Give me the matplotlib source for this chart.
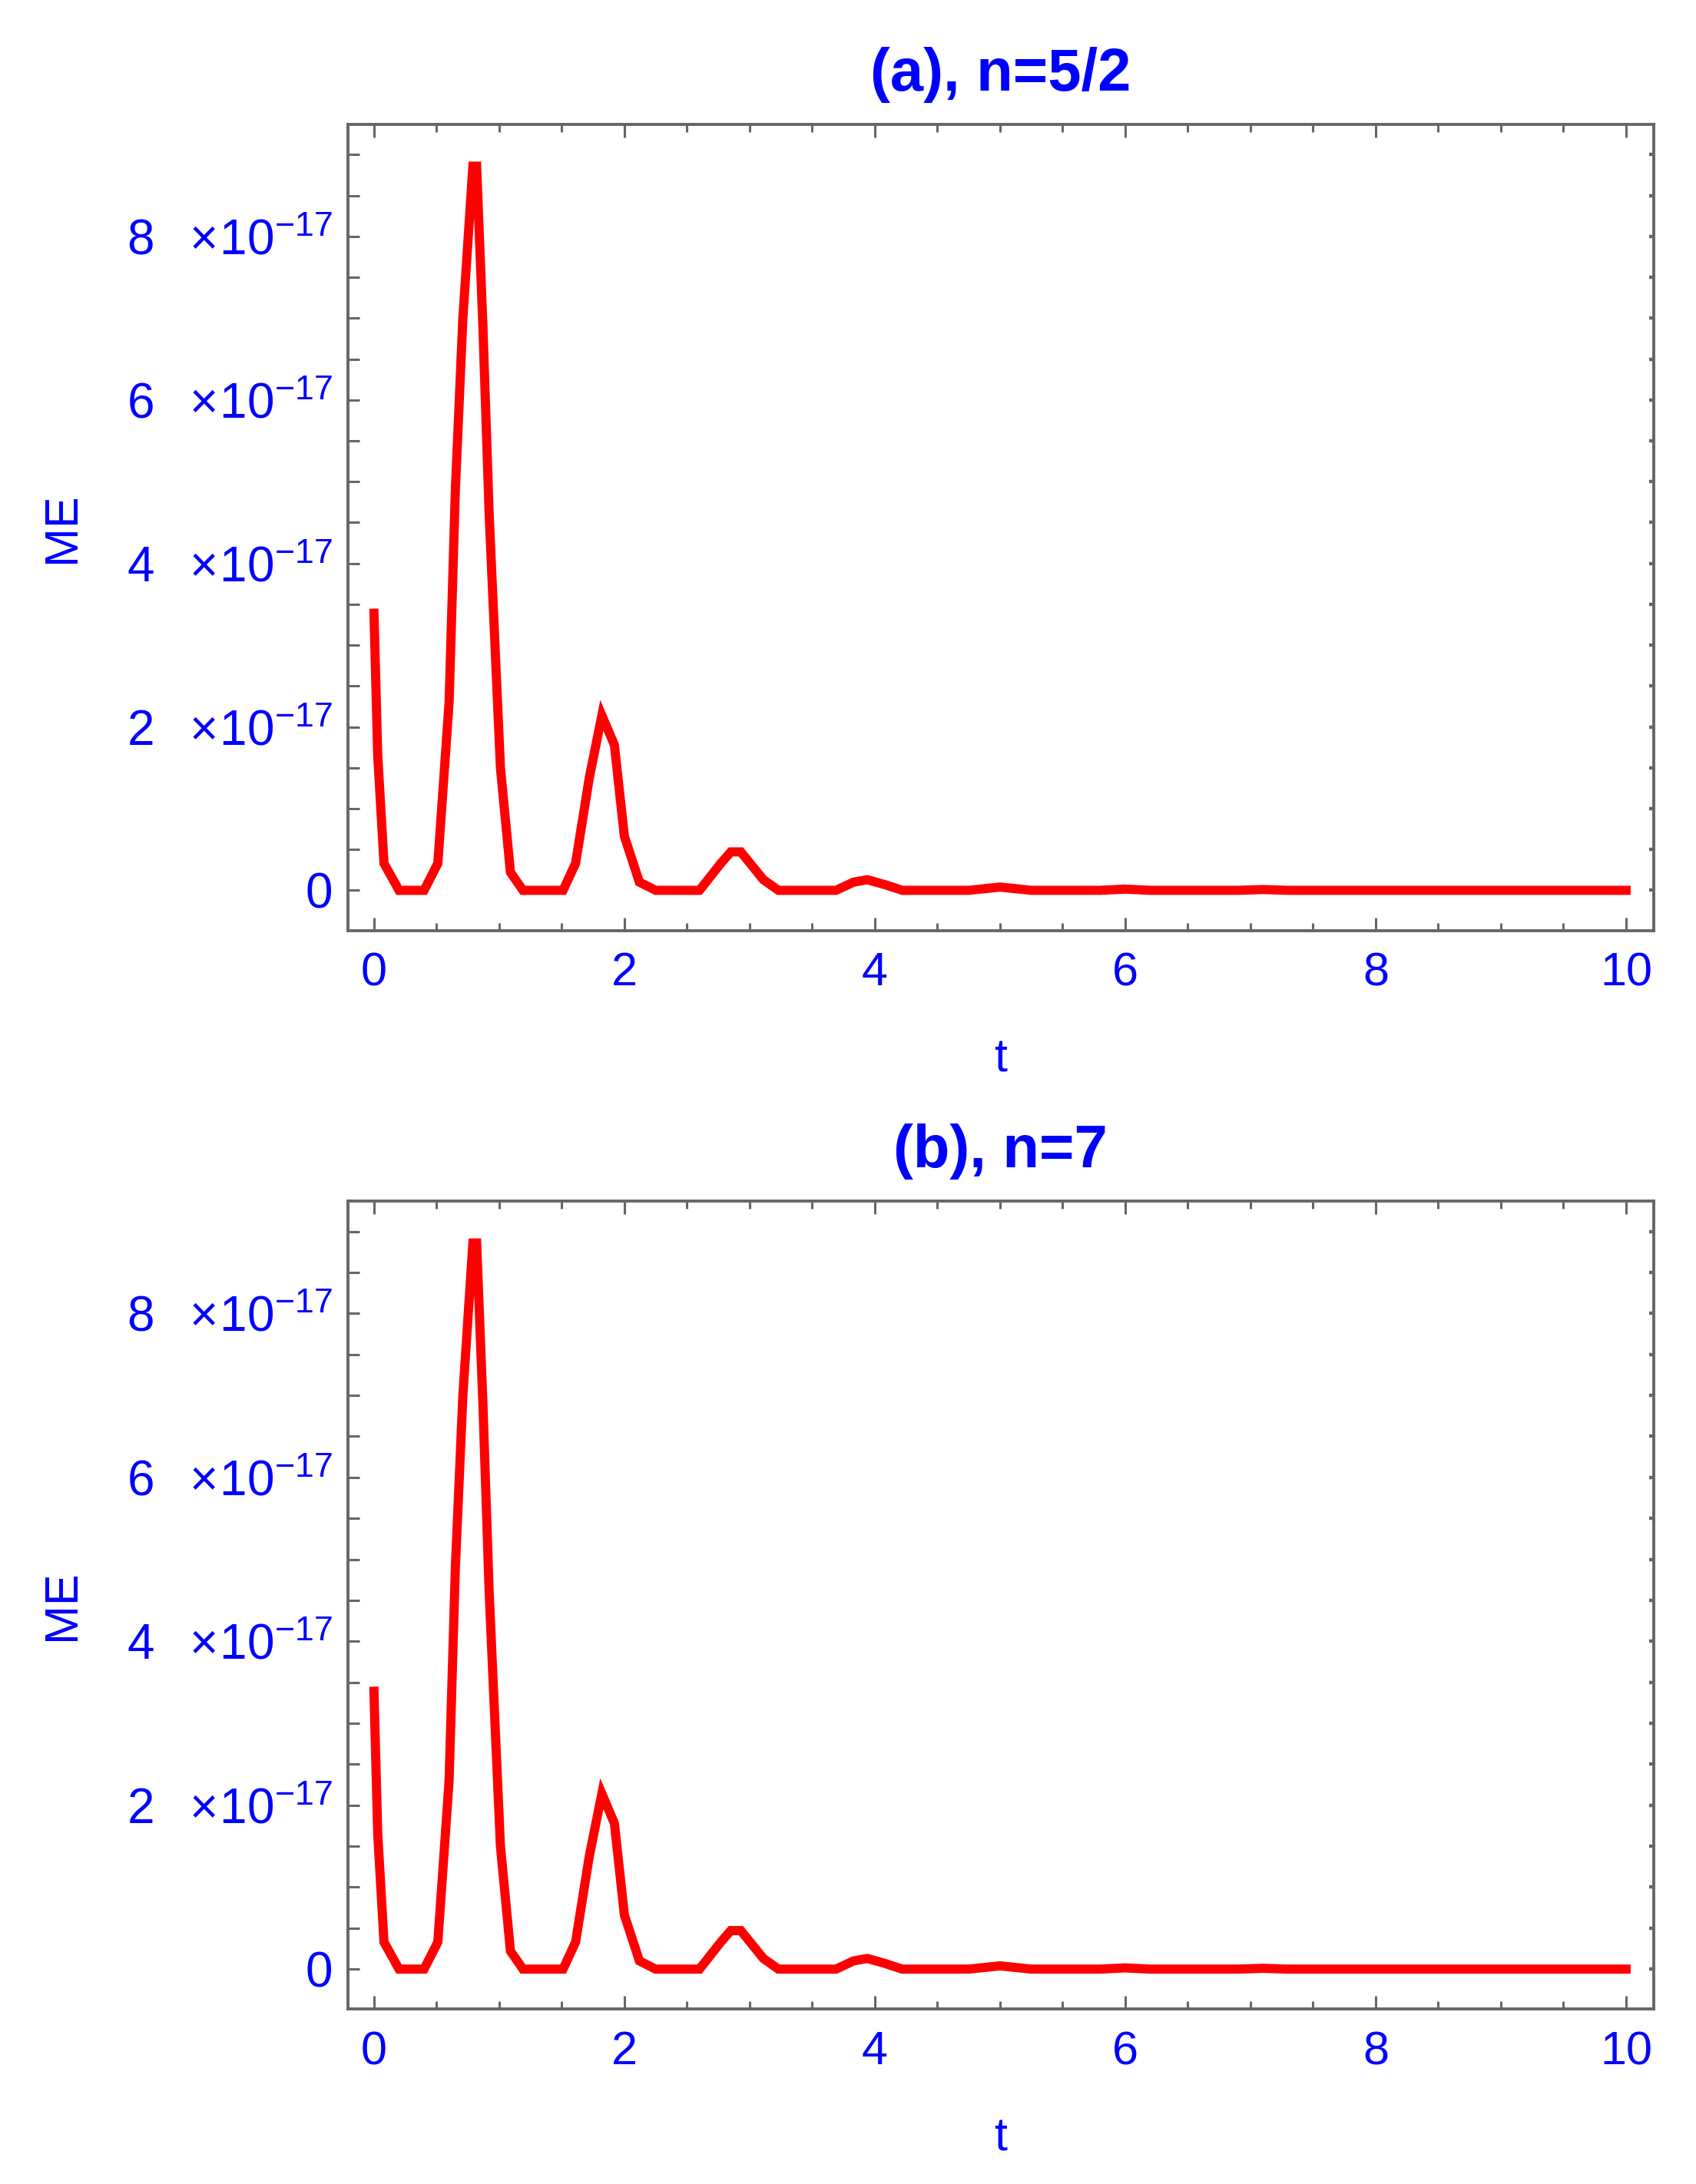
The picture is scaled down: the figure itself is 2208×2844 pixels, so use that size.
import numpy as np
import matplotlib
matplotlib.use('Agg')
import matplotlib.pyplot as plt
from matplotlib.ticker import MultipleLocator

plt.rcParams['font.family'] = ['Liberation Sans', 'DejaVu Sans']
plt.rcParams['mathtext.fontset'] = 'custom'
plt.rcParams['mathtext.rm'] = 'Liberation Sans'
plt.rcParams['mathtext.it'] = 'Liberation Sans:italic'
plt.rcParams['mathtext.bf'] = 'Liberation Sans:bold'

# data (ME in units of 1e-17)
t_a = [0.0, 0.03, 0.08, 0.2, 0.4, 0.51, 0.6, 0.65, 0.71, 0.79, 0.82, 0.87, 0.92,
       1.01, 1.09, 1.19, 1.51, 1.61, 1.72, 1.82, 1.92, 2.0, 2.12, 2.25, 2.6,
       2.77, 2.85, 2.93, 3.11, 3.23, 3.69, 3.83, 3.94, 4.08, 4.22, 4.75, 5.0,
       5.25, 5.8, 6.0, 6.2, 6.9, 7.1, 7.3, 10.0]
me_a = [3.39, 1.65, 0.33, 0.0, 0.0, 0.33, 2.3, 4.9, 7.0, 8.86, 8.86, 6.9, 4.6,
        1.5, 0.22, 0.0, 0.0, 0.33, 1.38, 2.14, 1.78, 0.66, 0.1, 0.0, 0.0,
        0.33, 0.47, 0.47, 0.13, 0.0, 0.0, 0.1, 0.13, 0.07, 0.0, 0.0, 0.04,
        0.0, 0.0, 0.015, 0.0, 0.0, 0.01, 0.0, 0.0]
t_b = list(t_a)
me_b = list(me_a)

panels = [("(a), n=5/2", t_a, me_a), ("(b), n=7", t_b, me_b)]

blue = '#0000ff'
frame = '#666666'

yticks = [0, 2, 4, 6, 8]
ylabels = ['0'] + [r'$%d\ \ \times\!10^{-17}$' % v for v in yticks[1:]]

fig = plt.figure(figsize=(11.04, 14.22), dpi=200)
boxes = [[0.205, 0.574, 0.770, 0.369], [0.205, 0.080, 0.770, 0.370]]

for box, (title, t, me) in zip(boxes, panels):
    ax = fig.add_axes(box)
    ax.plot(t, me, color='#ff0000', lw=4.3, solid_joinstyle='miter')
    ax.set_xlim(-0.21, 10.22)
    ax.set_ylim(-0.49, 9.37)
    ax.set_xticks([0, 2, 4, 6, 8, 10])
    ax.xaxis.set_minor_locator(MultipleLocator(0.5))
    ax.set_yticks(yticks)
    ax.set_yticklabels(ylabels)
    ax.yaxis.set_minor_locator(MultipleLocator(0.5))
    for s in ax.spines.values():
        s.set_color(frame)
        s.set_linewidth(1.4)
    ax.tick_params(axis='x', which='major', direction='in', length=6, width=1.1,
                   color=frame, top=True, labelcolor=blue, labelsize=22, pad=10)
    ax.tick_params(axis='x', which='minor', direction='in', length=3.5, width=1.1,
                   color=frame, top=True)
    ax.tick_params(axis='y', which='both', direction='in', length=5.5, width=1.1,
                   color=frame, labelcolor=blue, labelsize=23, pad=7)
    ax.set_title(title, color=blue, fontsize=28, fontweight='bold', pad=16)
    ax.set_xlabel('t', color=blue, fontsize=22, labelpad=20)
    ax.set_ylabel('ME', color=blue, fontsize=22, labelpad=20)
    # short ticks on right side
    axr = ax.secondary_yaxis('right')
    axr.set_yticks(np.arange(0, 9.5, 0.5))
    axr.tick_params(direction='in', length=2, width=1.6, color=frame, labelright=False)
    axr.spines['right'].set_visible(False)

fig.savefig('out.png', dpi=200)
